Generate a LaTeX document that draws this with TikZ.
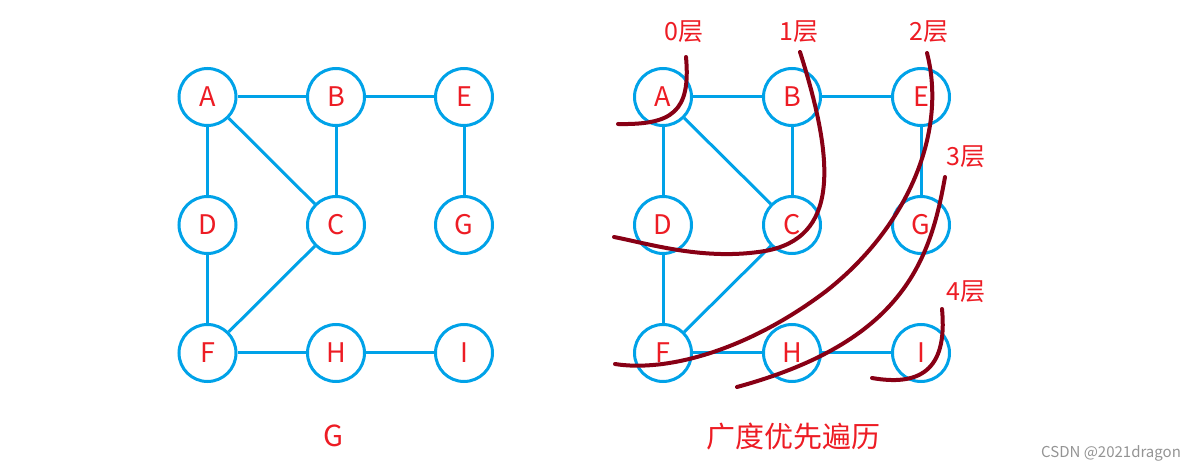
\documentclass[tikz,border=0pt]{standalone}
\usepackage{fontspec}
\setmainfont{Noto Sans CJK SC}
\usetikzlibrary{positioning}
\definecolor{vblue}{RGB}{0,162,232}
\definecolor{vred}{RGB}{237,28,36}
\definecolor{dred}{RGB}{136,0,21}
\begin{document}
\begin{tikzpicture}[x=1pt,y=-1pt,
  vtx/.style={circle,draw=vblue,line width=3pt,minimum size=57pt,inner sep=0pt,
    text=vred,font=\fontsize{27}{27}\selectfont},
  edge/.style={draw=vblue,line width=3pt},
  layer/.style={text=vred,font=\fontsize{25}{25}\selectfont,inner sep=0pt},
  captiontext/.style={text=vred,font=\fontsize{29}{29}\selectfont,inner sep=0pt},
  sweep/.style={draw=dred,line width=4pt,line cap=round}]
\useasboundingbox (0,0) rectangle (1200,470);
% left graph
\node[vtx] (A) at (207.5,97) {A};
\node[vtx] (B) at (336,97) {B};
\node[vtx] (E) at (464,97) {E};
\node[vtx] (D) at (207.5,225) {D};
\node[vtx] (C) at (336,225) {C};
\node[vtx] (G) at (464,225) {G};
\node[vtx] (F) at (207.5,353) {F};
\node[vtx] (H) at (336,353) {H};
\node[vtx] (I) at (464,353) {I};
\foreach \u/\v in {A/B,B/E,A/D,A/C,B/C,E/G,D/F,C/F,F/H,H/I}
  \draw[edge] (\u) -- (\v);
\node[captiontext] (lg) at (333,436) {G};
% right graph
\node[vtx] (A2) at (663,97) {A};
\node[vtx] (B2) at (792,97) {B};
\node[vtx] (E2) at (921,97) {E};
\node[vtx] (D2) at (663,225) {D};
\node[vtx] (C2) at (792,225) {C};
\node[vtx] (G2) at (921,225) {G};
\node[vtx] (F2) at (663,353) {F};
\node[vtx] (H2) at (792,353) {H};
\node[vtx] (I2) at (921,353) {I};
\foreach \u/\v in {A2/B2,B2/E2,A2/D2,A2/C2,B2/C2,E2/G2,D2/F2,C2/F2,F2/H2,H2/I2}
  \draw[edge] (\u) -- (\v);
\node[captiontext] (lbfs) at (793,437) {广度优先遍历};
% layer labels
\node[layer] (l0) at (684,32) {0层};
\node[layer] (l1) at (799,32) {1层};
\node[layer] (l2) at (929,32) {2层};
\node[layer] (l3) at (966,157) {3层};
\node[layer] (l4) at (966,292) {4层};
% sweep curves
\draw[sweep] (686,57) .. controls (691,112) and (672,125) .. (618,124);
\draw[sweep] (800,52) .. controls (836,165) and (838,238) .. (765,251)
  .. controls (705,261) and (650,244) .. (614,237);
\draw[sweep] (927,53) .. controls (948,135) and (905,230) .. (825,292)
  .. controls (745,352) and (665,372) .. (615,364);
\draw[sweep] (945,177) .. controls (930,262) and (902,342) .. (737,387);
\draw[sweep] (942,309) .. controls (948,372) and (918,386) .. (872,378);
% watermark
\node[text=black!42,font=\fontsize{15}{15}\selectfont,inner sep=0pt] (wm) at (1111,453) {CSDN @2021dragon};
\end{tikzpicture}
\end{document}
